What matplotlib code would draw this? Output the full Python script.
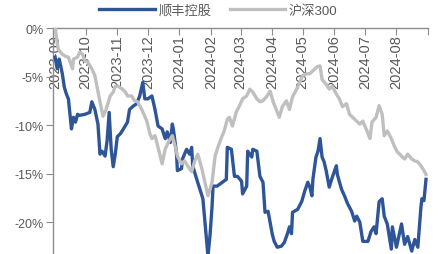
import matplotlib
matplotlib.use("Agg")
import matplotlib.pyplot as plt
import pandas as pd

plt.rcParams['font.family'] = ['Liberation Sans', 'Noto Sans CJK SC', 'DejaVu Sans']

start = pd.Timestamp('2023-09-01')

# 顺丰控股 cumulative return (%), day offsets from 2023-09-01
sf_days = [0, 2, 4, 7, 9, 11, 13, 15, 16, 18, 20, 22, 24, 29, 34, 36, 39, 42, 44, 46,
           49, 51, 53, 55, 57, 59, 61, 64, 67, 71, 73, 76, 80, 83, 86, 88, 91, 95, 98, 101,
           105, 108, 110, 113, 115, 116, 119, 120, 124, 125, 129, 132, 134, 135, 139, 142, 145, 147, 149, 150,
           152, 154, 155, 159, 168, 169, 173, 176, 179, 183, 184, 188, 189, 193, 194, 198, 201, 204, 206, 209,
           213, 215, 218, 222, 225, 228, 230, 232, 233, 238, 242, 245, 248, 250, 252, 253, 256, 258, 260, 262,
           264, 266, 269, 272, 274, 276, 277, 281, 284, 287, 291, 294, 296, 299, 302, 307, 310, 313, 315, 318,
           321, 323, 326, 330, 331, 335, 340, 343, 346, 350, 353, 356, 359, 360, 362, 364]
sf_vals = [-3.0, -4.2, -3.2, -4.7, -6.1, -6.8, -7.3, -9.4, -10.4, -9.2, -9.7, -8.9, -9.0, -8.9, -8.7, -7.6, -8.4, -9.9, -13.0, -12.7,
           -13.2, -11.6, -8.7, -12.5, -14.3, -13.0, -11.2, -10.9, -10.4, -9.7, -8.4, -8.1, -7.8, -7.0, -5.6, -7.3, -7.3, -7.0, -8.4, -10.1,
           -10.4, -11.4, -10.7, -11.8, -9.9, -10.4, -12.8, -14.7, -14.5, -13.5, -12.5, -13.0, -12.3, -14.2, -15.6, -16.6, -17.6, -20.0, -22.5, -23.5,
           -21.4, -18.4, -16.3, -16.3, -15.6, -12.3, -12.5, -15.3, -15.3, -15.8, -17.1, -16.3, -12.7, -13.3, -12.5, -12.7, -15.3, -15.9, -19.0, -18.9,
           -21.2, -22.0, -22.6, -22.5, -22.1, -21.2, -20.5, -21.2, -19.0, -18.7, -17.9, -16.8, -15.9, -16.4, -17.3, -15.6, -13.3, -12.7, -11.4, -13.3,
           -13.8, -14.7, -16.4, -15.4, -14.8, -14.2, -15.1, -16.6, -17.3, -18.1, -18.9, -19.9, -19.4, -20.0, -22.0, -22.0, -21.0, -20.5, -21.2, -17.9,
           -17.6, -19.4, -20.2, -22.8, -20.5, -22.6, -20.2, -22.3, -21.5, -23.0, -21.8, -22.6, -18.5, -17.6, -17.8, -15.6]

# 沪深300 cumulative return (%)
hs_days = [0, 3, 7, 10, 13, 17, 18, 22, 24, 27, 29, 32, 36, 39, 41, 44, 47, 50, 54, 57,
           59, 62, 66, 69, 71, 75, 78, 81, 85, 88, 90, 93, 95, 98, 101, 105, 108, 111, 115, 118,
           120, 124, 127, 130, 134, 137, 140, 144, 147, 150, 154, 157, 160, 164, 166, 169, 171, 174, 178, 181,
           184, 188, 191, 194, 198, 201, 204, 208, 211, 214, 217, 220, 223, 227, 230, 233, 237, 240, 243, 247,
           250, 253, 257, 260, 262, 266, 269, 272, 276, 279, 282, 286, 289, 292, 296, 299, 302, 306, 309, 311,
           315, 318, 321, 323, 326, 330, 333, 336, 340, 343, 346, 350, 353, 356, 359, 362, 364]
hs_vals = [0.0, -2.2, -2.7, -2.9, -3.0, -4.2, -3.2, -3.0, -2.5, -2.7, -3.4, -3.5, -4.2, -4.9, -6.0, -7.6, -9.1, -8.4, -7.0, -6.6,
           -6.0, -6.0, -6.3, -6.6, -7.0, -7.0, -7.5, -7.6, -8.4, -9.1, -9.6, -10.9, -11.4, -11.1, -12.3, -14.0, -12.5, -11.8, -11.1, -12.3,
           -13.2, -14.0, -13.7, -14.2, -14.8, -13.7, -13.0, -14.5, -15.9, -17.3, -15.9, -13.2, -12.2, -11.1, -10.6, -9.4, -9.2, -10.1, -8.6, -8.0,
           -7.3, -7.0, -6.3, -6.6, -7.3, -7.6, -7.5, -7.0, -6.5, -7.6, -8.4, -9.2, -8.1, -7.5, -8.4, -7.1, -6.3, -5.6, -4.9, -4.7,
           -4.7, -4.4, -4.0, -3.9, -5.3, -5.8, -6.3, -6.0, -6.8, -7.3, -8.1, -7.8, -8.9, -9.2, -9.6, -9.9, -9.6, -10.6, -11.4, -9.7,
           -9.2, -8.0, -8.9, -11.1, -10.6, -11.4, -12.2, -12.8, -13.2, -13.5, -13.0, -13.5, -13.7, -13.8, -14.2, -14.7, -15.1]

months = pd.date_range('2023-09-01', '2024-09-01', freq='MS')
month_labels = [m.strftime('%Y-%m') for m in months[:-1]] + ['']
y_ticks = [0, -5, -10, -15, -20]

sf_dates = start + pd.to_timedelta(sf_days, unit='D')
hs_dates = start + pd.to_timedelta(hs_days, unit='D')

txt = '#595959'
spine_c = '#8c8c8c'

fig = plt.figure(figsize=(4.39, 2.55), dpi=100)
ax = fig.add_axes([0.121, 0.0, 0.854, 0.886])

ax.plot(sf_dates, sf_vals, color='#2E5597', lw=2.4, label='顺丰控股', zorder=3)
ax.plot(hs_dates, hs_vals, color='#BFBFBF', lw=2.4, label='沪深300', zorder=3)

ax.set_xlim(start - pd.Timedelta(days=2), months[-1])
ax.set_ylim(-23.3, 0)

ax.set_xticks(months)
ax.set_xticklabels(month_labels)
ax.tick_params(axis='x', top=True, bottom=False, labeltop=True, labelbottom=False,
               direction='in', length=5, color=spine_c, labelsize=10.5, labelcolor=txt,
               labelrotation=90, pad=-4.5)
for t in ax.xaxis.get_major_ticks():
    t.label2.set_va('top')

ax.set_yticks(y_ticks)
ax.set_yticklabels([f'{v}%' for v in y_ticks])
ax.tick_params(axis='y', direction='out', length=5, color=spine_c, labelsize=9,
               labelcolor=txt, pad=2)

for s in ['right', 'bottom']:
    ax.spines[s].set_visible(False)
for s in ['left', 'top']:
    ax.spines[s].set_color(spine_c)
    ax.spines[s].set_linewidth(1)

fig.legend(loc='center', bbox_to_anchor=(0.497, 0.955), ncol=2, frameon=False,
           fontsize=9.5, labelcolor=txt, handlelength=4.2, handletextpad=0.25,
           columnspacing=1.4, borderpad=0)

fig.savefig('out.png', dpi=100)
